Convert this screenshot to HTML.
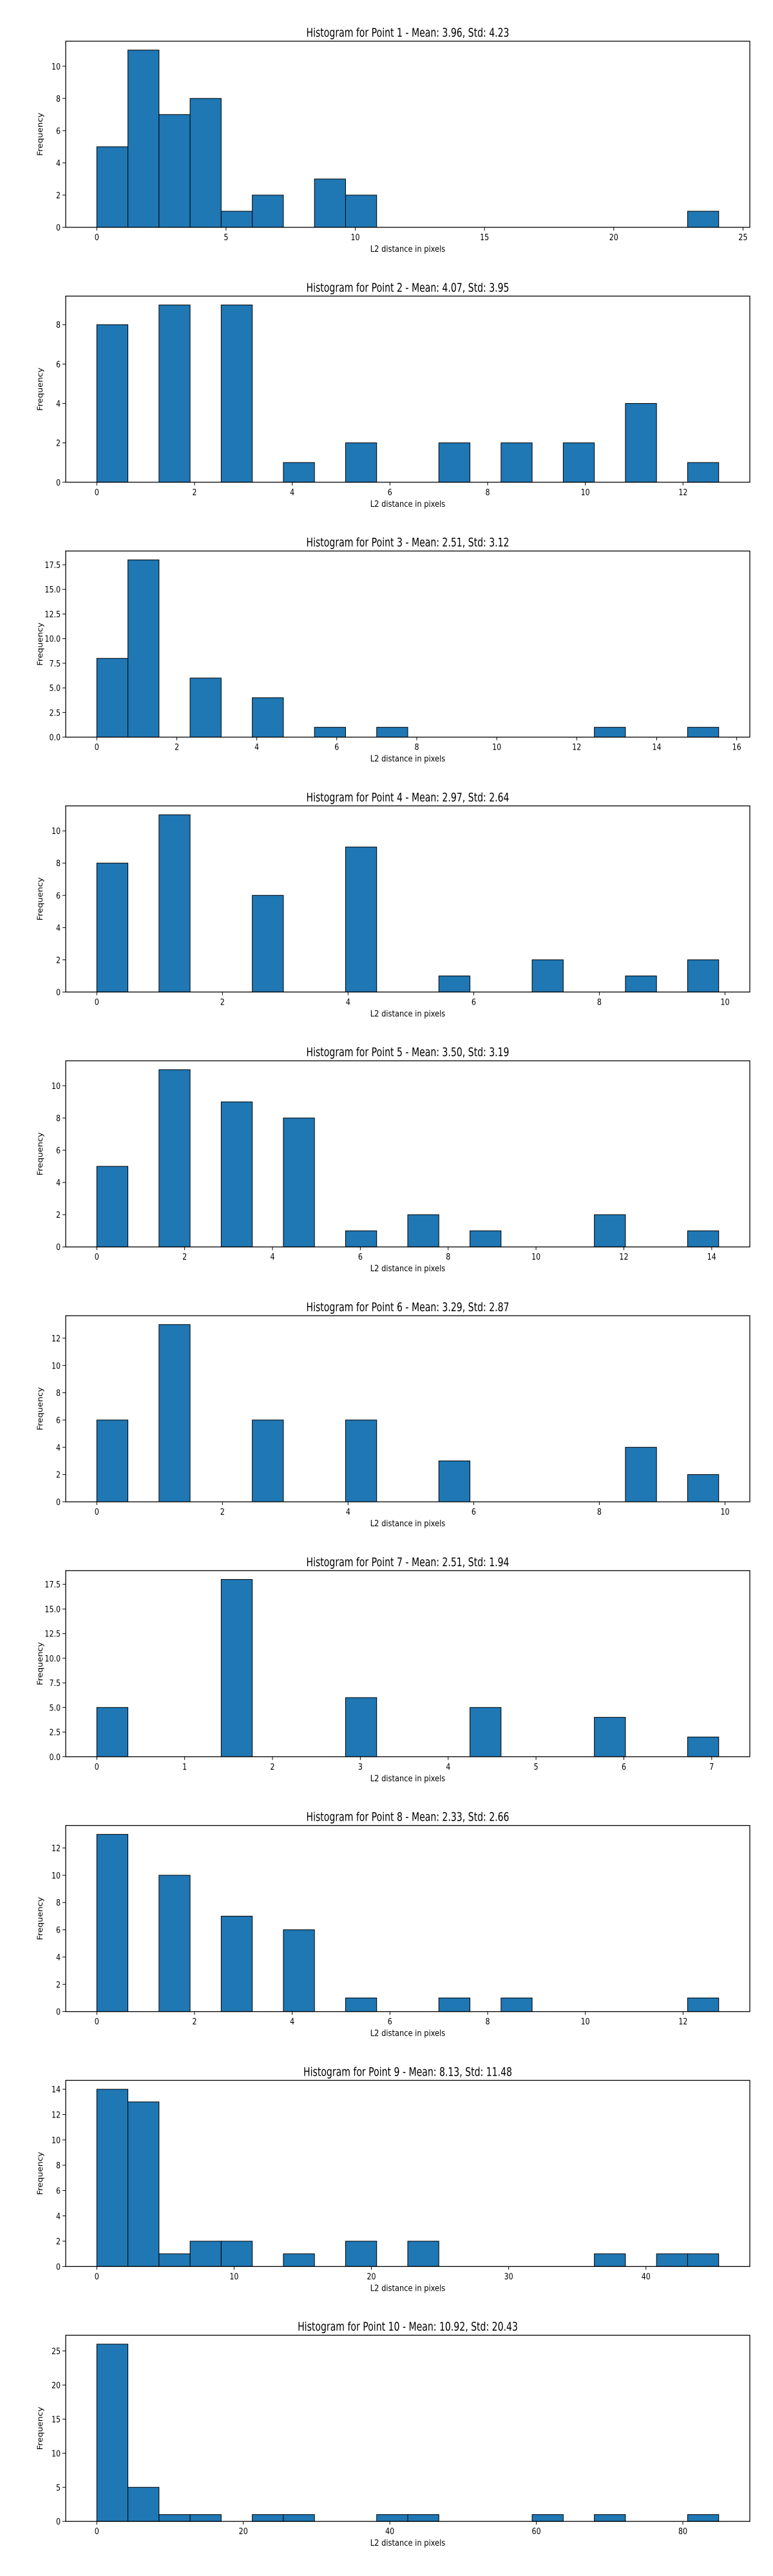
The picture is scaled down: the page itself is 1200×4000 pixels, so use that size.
<!DOCTYPE html>
<html><head><meta charset="utf-8"><style>
html,body{margin:0;padding:0;background:#fff;}
svg{display:block;}
text{font-family:"DejaVu Sans","Liberation Sans",sans-serif;fill:#000;}
</style></head>
<body>
<svg id="fig" width="1200" height="4000" viewBox="0 0 1200 4000" xmlns="http://www.w3.org/2000/svg"></svg>
<script>
const titles = [
  "Histogram for Point 1 - Mean: 3.96, Std: 4.23",
  "Histogram for Point 2 - Mean: 4.07, Std: 3.95",
  "Histogram for Point 3 - Mean: 2.51, Std: 3.12",
  "Histogram for Point 4 - Mean: 2.97, Std: 2.64",
  "Histogram for Point 5 - Mean: 3.50, Std: 3.19",
  "Histogram for Point 6 - Mean: 3.29, Std: 2.87",
  "Histogram for Point 7 - Mean: 2.51, Std: 1.94",
  "Histogram for Point 8 - Mean: 2.33, Std: 2.66",
  "Histogram for Point 9 - Mean: 8.13, Std: 11.48",
  "Histogram for Point 10 - Mean: 10.92, Std: 20.43"
];
const dataMin = [0,0,0,0,0,0,0,0,0,0];
const dataMax = [24.06,12.73,15.55,9.9,14.16,9.9,7.08,12.73,45.3,84.9];
const counts1 = [5,11,7,8,1,2,0,3,2,0,0,0,0,0,0,0,0,0,0,1];
const counts2 = [8,0,9,0,9,0,1,0,2,0,0,2,0,2,0,2,0,4,0,1];
const counts3 = [8,18,0,6,0,4,0,1,0,1,0,0,0,0,0,0,1,0,0,1];
const counts4 = [8,0,11,0,0,6,0,0,9,0,0,1,0,0,2,0,0,1,0,2];
const counts5 = [5,0,11,0,9,0,8,0,1,0,2,0,1,0,0,0,2,0,0,1];
const counts6 = [6,0,13,0,0,6,0,0,6,0,0,3,0,0,0,0,0,4,0,2];
const counts7 = [5,0,0,0,18,0,0,0,6,0,0,0,5,0,0,0,4,0,0,2];
const counts8 = [13,0,10,0,7,0,6,0,1,0,0,1,0,1,0,0,0,0,0,1];
const counts9 = [14,13,1,2,2,0,1,0,2,0,2,0,0,0,0,0,1,0,1,1];
const counts10 = [26,5,1,1,0,1,1,0,0,1,1,0,0,0,1,0,1,0,0,1];
const allCounts = [counts1,counts2,counts3,counts4,counts5,counts6,counts7,counts8,counts9,counts10];
const xTicks = [[0,5,10,15,20,25],[0,2,4,6,8,10,12],[0,2,4,6,8,10,12,14,16],[0,2,4,6,8,10],[0,2,4,6,8,10,12,14],[0,2,4,6,8,10],[0,1,2,3,4,5,6,7],[0,2,4,6,8,10,12],[0,10,20,30,40],[0,20,40,60,80]];
const yTicks = [[0,2,4,6,8,10],[0,2,4,6,8],[0,2.5,5,7.5,10,12.5,15,17.5],[0,2,4,6,8,10],[0,2,4,6,8,10],[0,2,4,6,8,10,12],[0,2.5,5,7.5,10,12.5,15,17.5],[0,2,4,6,8,10,12],[0,2,4,6,8,10,12,14],[0,5,10,15,20,25]];
const yTickLabels = [null,null,["0.0","2.5","5.0","7.5","10.0","12.5","15.0","17.5"],null,null,null,["0.0","2.5","5.0","7.5","10.0","12.5","15.0","17.5"],null,null,null];

const NS="http://www.w3.org/2000/svg";
const svg=document.getElementById('fig');
const AX_L=102, AX_R=1164, AX_H=289, TOP0=64, PITCH=395.8;
function mk(tag,attrs,parent){const e=document.createElementNS(NS,tag);for(const k in attrs)e.setAttribute(k,attrs[k]);parent.appendChild(e);return e;}
function txt(parent,x,y,s,size,anchor,sx){const t=mk('text',{transform:`translate(${x},${y}) scale(${sx},1)`,'font-size':size,'text-anchor':anchor},parent);t.textContent=s;return t;}

for(let p=0;p<10;p++){
  const counts=allCounts[p];
  const mn=dataMin[p], mx=dataMax[p];
  const span=mx-mn;
  const x0=mn-0.05*span, x1=mx+0.05*span;
  const maxC=Math.max(...counts);
  const y1=maxC*1.05;
  const top=TOP0+p*PITCH, bot=top+AX_H;
  const X=v=>AX_L+(v-x0)/(x1-x0)*(AX_R-AX_L);
  const Y=v=>bot-(v/y1)*AX_H;
  const g=mk('g',{},svg);
  
  
  const t=txt(g,(AX_L+AX_R)/2,top-7,titles[p],19,'middle',0.74);
  
  
  const bw=span/counts.length;
  for(let i=0;i<counts.length;i++){
    const c=counts[i];
    const xa=X(mn+i*bw), xb=X(mn+(i+1)*bw);
    const r=mk('rect',{x:xa,y:Y(c),width:xb-xa,height:Y(0)-Y(c),fill:'#1f77b4',stroke:'#000','stroke-width':1},g);
    
    
  }
  const frame=mk('rect',{x:AX_L,y:top,width:AX_R-AX_L,height:AX_H,fill:'none',stroke:'#000','stroke-width':1.3},g);
  
  
  xTicks[p].forEach(v=>{
    const x=X(v);
    mk('line',{x1:x,y1:bot,x2:x,y2:bot+5,stroke:'#000','stroke-width':1},g);
    const l=txt(g,x,bot+20,String(v),13,'middle',0.85);
    
    
  });
  yTicks[p].forEach((v,k)=>{
    const y=Y(v);
    mk('line',{x1:AX_L-5,y1:y,x2:AX_L,y2:y,stroke:'#000','stroke-width':1},g);
    const lab=yTickLabels[p]?yTickLabels[p][k]:String(v);
    const l=txt(g,AX_L-8,y+5,lab,13,'end',0.85);
    
    
  });
  const xl=txt(g,(AX_L+AX_R)/2,bot+38,'L2 distance in pixels',13,'middle',0.88);
  
  
  const yl=mk('text',{transform:`translate(66,${top+AX_H/2}) rotate(-90) scale(1,0.85)`,'font-size':13,'text-anchor':'middle'},g);
  yl.textContent='Frequency';
  
  
}
</script>
</body></html>
